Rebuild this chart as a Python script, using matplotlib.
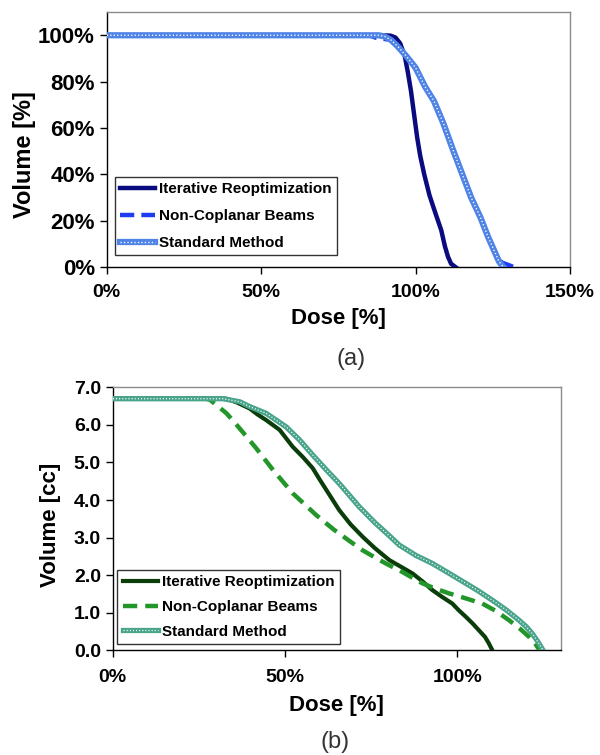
import matplotlib
matplotlib.use("Agg")
import matplotlib.pyplot as plt
from matplotlib.legend_handler import HandlerTuple
from matplotlib.ticker import FuncFormatter, MultipleLocator

plt.rcParams['font.family'] = ['Liberation Sans', 'DejaVu Sans']

# (a) volume [%] vs dose [%]
a_iter_dose = [0, 90, 92, 93.5, 95, 96.5, 97.5, 98.5, 99.5, 100.5, 101.5, 102.8, 104.5, 106.5, 108.3, 109.5, 110.5, 111.5, 113]
a_iter_vol = [100, 100, 99.8, 99, 96.5, 91, 84, 76, 66, 56, 48, 40, 31, 23, 16, 9, 4.5, 1.5, 0]

a_ncp_dose = [0, 85, 87, 89, 92, 94, 97, 100, 103, 106, 109, 112, 115, 118, 121, 123.5, 125, 126.5, 128, 130, 132]
a_ncp_vol = [100, 100, 99, 98.6, 98, 96, 91, 85.5, 78, 71, 61.5, 51, 40.5, 30.5, 21, 13.5, 8, 4, 2, 1, 0]

a_std_dose = [0, 88, 90, 92, 94, 97, 100, 103, 106, 109, 112, 115, 118, 121, 123.5, 125.5, 127, 128.5]
a_std_vol = [100, 100, 99.5, 98, 95.5, 91, 86, 78, 71.5, 62, 51, 40.5, 30, 21.5, 13, 7, 2.5, 0]

# (b) volume [cc] vs dose [%]
b_iter_dose = [0, 33, 36, 39.7, 42, 44.5, 48.4, 52.2, 55.1, 58, 60, 65.7, 69, 72.5, 76, 80.2, 84, 87, 90,
               92.7, 95.5, 98.5, 100.5, 102.4, 104.5, 106.2, 108, 109.1, 110.1]
b_iter_vol = [6.7, 6.7, 6.6, 6.44, 6.28, 6.13, 5.87, 5.42, 5.15, 4.85, 4.55, 3.73, 3.35, 3.02, 2.72, 2.4, 2.2, 2.04, 1.82,
              1.6, 1.42, 1.24, 1.05, 0.89, 0.7, 0.53, 0.35, 0.18, 0.0]

b_ncp_dose = [0, 27, 28.2, 30.5, 33, 35.4, 37.8, 41.6, 46.5, 52.2, 59, 64, 68.5, 72.5, 76.4, 80, 83.1, 86.5, 89.8,
              93.5, 97.6, 102, 107.2, 111, 114.9, 118, 120.7, 122.5, 123.8]
b_ncp_vol = [6.7, 6.7, 6.67, 6.5, 6.31, 6.06, 5.8, 5.38, 4.8, 4.18, 3.6, 3.22, 2.92, 2.66, 2.45, 2.27, 2.13, 1.95, 1.78,
             1.64, 1.51, 1.39, 1.24, 1.05, 0.8, 0.58, 0.36, 0.18, 0.0]

b_std_dose = [0, 32, 36.8, 39.7, 44.5, 50.3, 54.2, 58, 62, 65.7, 71.5, 76, 80.2, 83.1, 88, 92.7, 97.5, 102.4, 106,
              110.1, 114, 117.8, 120, 121.7, 123.5, 124.8]
b_std_vol = [6.7, 6.7, 6.62, 6.49, 6.31, 5.95, 5.6, 5.2, 4.8, 4.44, 3.82, 3.4, 3.05, 2.8, 2.52, 2.31, 2.05, 1.78, 1.58,
             1.33, 1.08, 0.8, 0.62, 0.44, 0.2, 0.0]

labels = ["Iterative Reoptimization", "Non-Coplanar Beams", "Standard Method"]


def style_axes(ax):
    for side in ["top", "right"]:
        ax.spines[side].set_color("#8c8c8c")
        ax.spines[side].set_linewidth(1.0)
    for side in ["left", "bottom"]:
        ax.spines[side].set_color("black")
        ax.spines[side].set_linewidth(1.0)
    ax.tick_params(direction="out", length=5, width=1, top=False, right=False)


def add_legend(ax, handles, anchor, spacing):
    leg = ax.legend(handles, labels, handler_map={tuple: HandlerTuple(ndivide=1)},
                    loc="lower left", bbox_to_anchor=anchor, frameon=True, fancybox=False,
                    edgecolor="#333333", framealpha=1, borderpad=0.35, handlelength=2.3,
                    handletextpad=0.25, labelspacing=spacing, borderaxespad=0,
                    prop={"weight": "bold", "size": 11})
    leg.get_frame().set_linewidth(1.0)


fig = plt.figure(figsize=(6, 7.55), dpi=100)
pct = FuncFormatter(lambda v, p: f"{v:.0f}%")

# panel (a)
ax1 = fig.add_axes([0.178, 0.646, 0.772, 0.338])
h1, = ax1.plot(a_iter_dose, a_iter_vol, color="#0b0b80", lw=3.2, zorder=3)
h2, = ax1.plot(a_ncp_dose, a_ncp_vol, color="#1f3cf0", lw=3.2, dashes=(3.2, 1.6), zorder=4)
s1, = ax1.plot(a_std_dose, a_std_vol, color="#4f84e6", lw=4.5, zorder=5)
s2, = ax1.plot(a_std_dose, a_std_vol, color="white", lw=1.0, dashes=(0.9, 1.6), zorder=6)
add_legend(ax1, [h1, h2, (s1, s2)], (0.017, 0.047), 0.85)
ax1.set_xlim(0, 150)
ax1.set_ylim(0, 110)
ax1.xaxis.set_major_locator(MultipleLocator(50))
ax1.set_yticks([0, 20, 40, 60, 80, 100])
ax1.xaxis.set_major_formatter(pct)
ax1.yaxis.set_major_formatter(pct)
style_axes(ax1)
ax1.tick_params(axis="x", pad=7)
for t in ax1.get_xticklabels():
    t.set_fontsize(14)
    t.set_fontweight("bold")
for t in ax1.get_yticklabels():
    t.set_fontsize(16)
    t.set_fontweight("bold")
ax1.set_xlabel("Dose [%]", fontsize=16, fontweight="bold", labelpad=5)
ax1.set_ylabel("Volume [%]", fontsize=17, fontweight="bold")
ax1.yaxis.set_label_coords(-0.152, 0.443)
fig.text(0.585, 0.5245, "(a)", fontsize=17, color="#333333", ha="center", va="center")

# panel (b)
ax2 = fig.add_axes([0.188, 0.139, 0.7467, 0.3478])
g1, = ax2.plot(b_iter_dose, b_iter_vol, color="#0b3d0b", lw=3.0, zorder=3)
g2, = ax2.plot(b_ncp_dose, b_ncp_vol, color="#23962a", lw=3.2, dashes=(3.2, 1.8), zorder=4)
t1, = ax2.plot(b_std_dose, b_std_vol, color="#48a48a", lw=3.8, zorder=5)
t2, = ax2.plot(b_std_dose, b_std_vol, color="white", lw=0.9, dashes=(0.9, 1.6), zorder=6)
add_legend(ax2, [g1, g2, (t1, t2)], (0.01, 0.023), 0.7)
ax2.set_xlim(0, 130)
ax2.set_ylim(0, 7)
ax2.xaxis.set_major_locator(MultipleLocator(50))
ax2.yaxis.set_major_locator(MultipleLocator(1))
ax2.xaxis.set_major_formatter(pct)
ax2.yaxis.set_major_formatter(FuncFormatter(lambda v, p: f"{v:.1f}"))
style_axes(ax2)
ax2.tick_params(axis="x", pad=9)
for t in ax2.get_xticklabels() + ax2.get_yticklabels():
    t.set_fontsize(14)
    t.set_fontweight("bold")
ax2.set_xlabel("Dose [%]", fontsize=16, fontweight="bold", labelpad=6)
ax2.set_ylabel("Volume [cc]", fontsize=16, fontweight="bold")
ax2.yaxis.set_label_coords(-0.115, 0.476)
fig.text(0.558, 0.017, "(b)", fontsize=17, color="#333333", ha="center", va="center")

fig.savefig("out.png", dpi=100)
